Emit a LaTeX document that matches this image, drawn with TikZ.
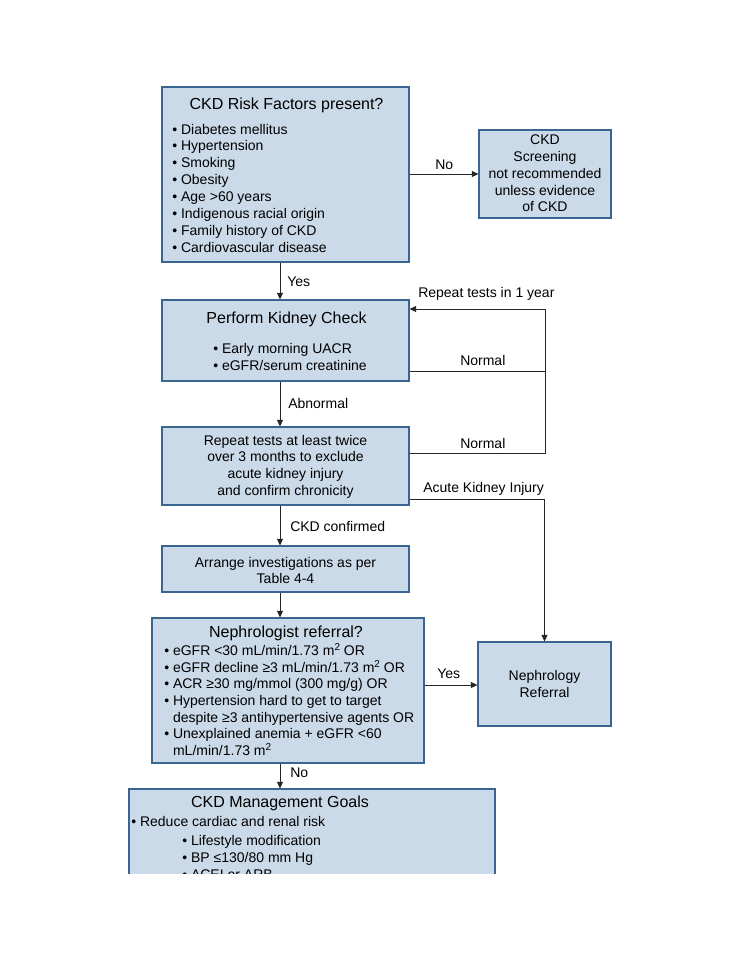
\documentclass[tikz,border=0pt]{standalone}
\usepackage{fontspec}
\setmainfont{Liberation Sans}
\usetikzlibrary{arrows.meta,fit}
\definecolor{boxfill}{HTML}{CBDAE8}
\definecolor{boxline}{HTML}{3A6591}
\definecolor{lineclr}{HTML}{262626}
\newcommand{\sqtwo}{\raisebox{0.3em}{\fontsize{7.5}{9}\selectfont 2}}
\tikzset{
  box/.style={draw=boxline, fill=boxfill, line width=0.8pt, inner sep=0pt},
  txt/.style={font=\fontsize{10.5}{12.6}\selectfont, inner sep=0pt, anchor=base west},
  ctxt/.style={font=\fontsize{10.5}{12.6}\selectfont, inner sep=0pt, anchor=base},
  ttl/.style={font=\fontsize{12}{14}\selectfont, inner sep=0pt, anchor=base},
  lbl/.style={font=\fontsize{10.5}{12.6}\selectfont, inner sep=0pt, anchor=base west},
  conn/.style={draw=lineclr, line width=0.75pt},
  arr/.style={conn, -{Triangle[length=5pt,width=4.5pt]}},
}
\begin{document}
\begin{tikzpicture}[x=0.75pt,y=-0.75pt]
\useasboundingbox[fill=white] (0,0) rectangle (741,960);
\coordinate (ax) at (280,0);
\coordinate (loopx) at (545,0);

% Box 1
\node[box, fit={(162,87) (409,262)}] (b1) {};
\node[ttl] (t1) at (286.5,109) {CKD Risk Factors present?};
\foreach \t [count=\i] in {Diabetes mellitus, Hypertension, Smoking, Obesity, Age >60 years, Indigenous racial origin, Family history of CKD, Cardiovascular disease}
  \node[txt] (t1-\i) at (172,{134+(\i-1)*16.86}) {• \t};

% No CKD box
\node[box, fit={(479,130) (611,218)}] (nock) {};
\foreach \t [count=\i] in {CKD, Screening, not recommended, unless evidence, of CKD}
  \node[ctxt] (tn-\i) at (545,{144.5+(\i-1)*16.86}) {\t};

% Box 2
\node[box, fit={(162,300) (409,381)}] (b2) {};
\node[ttl] (t2) at (286.5,323) {Perform Kidney Check};
\node[txt] (t2-1) at (213,353) {• Early morning UACR};
\node[txt] (t2-2) at (213,370) {• eGFR/serum creatinine};

% Box 3
\node[box, fit={(162,427) (409,505)}] (b3) {};
\foreach \t [count=\i] in {Repeat tests at least twice, over 3 months to exclude, acute kidney injury, and confirm chronicity}
  \node[ctxt] (t3-\i) at (285.5,{445+(\i-1)*16.9}) {\t};

% Box 4
\node[box, fit={(162,546) (409,592)}] (b4) {};
\node[ctxt] (t4-1) at (285.5,567) {Arrange investigations as per};
\node[ctxt] (t4-2) at (285.5,583) {Table 4-4};

% Box 5
\node[box, fit={(152,618) (424,763)}] (b5) {};
\node[ttl] (t5) at (286,637) {Nephrologist referral?};
\node[txt] (t5-1) at (164,655) {• eGFR <30 mL/min/1.73 m\sqtwo{} OR};
\node[txt] (t5-2) at (164,672) {• eGFR decline ≥3 mL/min/1.73 m\sqtwo{} OR};
\node[txt] (t5-3) at (164,688.5) {• ACR ≥30 mg/mmol (300 mg/g) OR};
\node[txt] (t5-4) at (164,705) {• Hypertension hard to get to target};
\node[txt] (t5-5) at (164,722) {\phantom{• }despite ≥3 antihypertensive agents OR};
\node[txt] (t5-6) at (164,738.5) {• Unexplained anemia + eGFR <60};
\node[txt] (t5-7) at (164,755) {\phantom{• }mL/min/1.73 m\sqtwo};

% Nephrology referral box
\node[box, fit={(478,642) (611,726)}] (nr) {};
\node[ctxt] (tr-1) at (544.5,680) {Nephrology};
\node[ctxt] (tr-2) at (544.5,697) {Referral};

% Box 6 (cropped)
\begin{scope}
\clip (0,0) rectangle (741,873);
\node[box, fit={(129,789) (495,920)}] (b6) {};
\node[ttl] (t6) at (280,807) {CKD Management Goals};
\node[txt] (t6-1) at (131,826) {• Reduce cardiac and renal risk};
\node[txt] (t6-2) at (182,845) {• Lifestyle modification};
\node[txt] (t6-3) at (182,862) {• BP ≤130/80 mm Hg};
\node[txt] (t6-4) at (182,879) {• ACEI or ARB};
\end{scope}

% Connectors
\draw[arr] (b1.south -| ax) -- (b2.north -| ax);
\node[lbl] (l-yes1) at (287,286) {Yes};
\draw[arr] (b1.east |- 0,174) -- (nock.west |- 0,174);
\node[lbl] (l-no1) at (435,169) {No};
\draw[arr] (b2.south -| ax) -- (b3.north -| ax);
\node[lbl] (l-abn) at (288,408) {Abnormal};
\draw[conn] (b2.east |- 0,371) -- (loopx |- 0,371);
\node[lbl] (l-n1) at (460,365) {Normal};
\draw[arr] (b3.east |- 0,453) -- (loopx |- 0,453) -- (loopx |- 0,309) -- (b2.east |- 0,309);
\node[lbl] (l-n2) at (460,448) {Normal};
\node[lbl] (l-rep) at (418,297) {Repeat tests in 1 year};
\draw[arr] (b3.east |- 0,499) -| (nr.north);
\node[lbl] (l-aki) at (423,492) {Acute Kidney Injury};
\draw[arr] (b3.south -| ax) -- (b4.north -| ax);
\node[lbl] (l-conf) at (290,531) {CKD confirmed};
\draw[arr] (b4.south -| ax) -- (b5.north -| ax);
\draw[arr] (b5.east |- 0,685) -- (nr.west |- 0,685);
\node[lbl] (l-yes2) at (437,678) {Yes};
\draw[arr] (b5.south -| ax) -- (b6.north -| ax);
\node[lbl] (l-no2) at (290,777) {No};
\end{tikzpicture}
\end{document}
